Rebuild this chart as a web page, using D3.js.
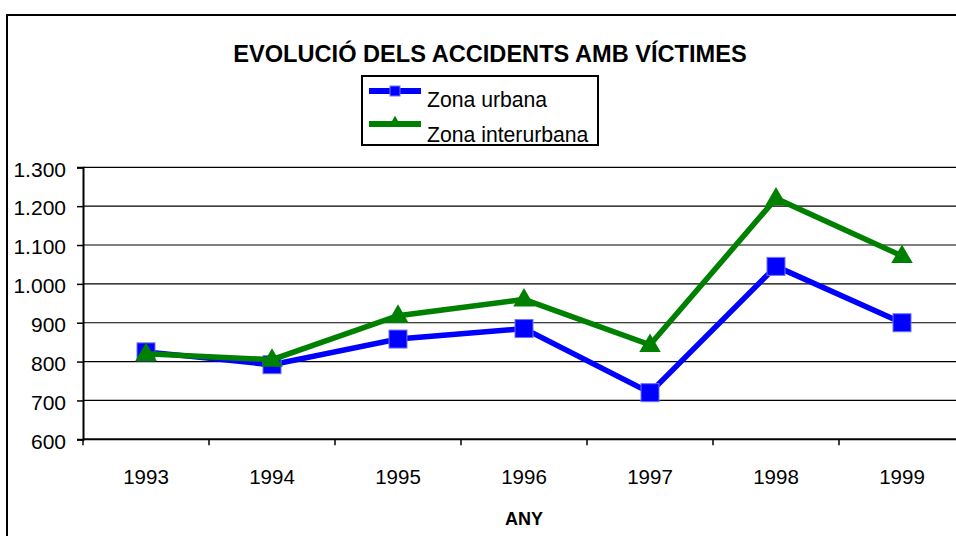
<!DOCTYPE html>
<html>
<head>
<meta charset="utf-8">
<script src="https://cdn.jsdelivr.net/npm/d3@7"></script>
<style>
  html, body { margin: 0; padding: 0; background: #fff; }
  svg { display: block; font-family: "Liberation Sans", Arial, sans-serif; }
</style>
</head>
<body>
<div id="chart"></div>
<script>
  // --- data ---
  var years       = ['1993', '1994', '1995', '1996', '1997', '1998', '1999'];
  var urbana      = [825, 792, 858, 885, 720, 1045, 900];
  var interurbana = [820, 805, 918, 960, 843, 1220, 1072];
  var yTicks      = [600, 700, 800, 900, 1000, 1100, 1200, 1300];
  var seriesNames = ['Zona urbana', 'Zona interurbana'];

  var W = 956, H = 536;
  var BLUE = '#0000ff', GREEN = '#008000';

  var svg = d3.select('#chart').append('svg')
    .attr('width', W).attr('height', H);

  svg.append('rect').attr('width', W).attr('height', H).attr('fill', '#fff');

  // outer chart frame (runs off the right / bottom edge)
  svg.append('rect')
    .attr('x', 7).attr('y', 15)
    .attr('width', W + 20).attr('height', H + 20)
    .attr('fill', 'none').attr('stroke', '#000').attr('stroke-width', 2);

  var x = d3.scaleBand().domain(years).range([83, 965]);
  var y = d3.scaleLinear().domain([600, 1300]).range([439.3, 167.3]);

  var fmt = d3.formatLocale({ decimal: ',', thousands: '.', grouping: [3], currency: ['', ''] }).format(',');

  // gridlines
  svg.append('g').selectAll('line').data(yTicks.slice(1)).enter()
    .append('line')
    .attr('x1', 83).attr('x2', W + 10)
    .attr('y1', function (d) { return y(d); })
    .attr('y2', function (d) { return y(d); })
    .attr('stroke', '#000').attr('stroke-width', 1.2);

  // y axis
  var yAxis = svg.append('g')
    .attr('transform', 'translate(83,0)')
    .call(d3.axisLeft(y).tickValues(yTicks).tickFormat(fmt).tickSize(6).tickPadding(11));
  yAxis.select('.domain').attr('stroke', '#000').attr('stroke-width', 2);
  yAxis.selectAll('.tick line').attr('stroke', '#000').attr('stroke-width', 1.5);
  yAxis.selectAll('text')
    .attr('fill', '#000').attr('font-size', '21px')
    .attr('font-family', '"Liberation Sans", Arial, sans-serif')
    .attr('dy', '0.42em');

  // x axis: ticks on the band boundaries, labels at band centres
  var bounds = years.map(function (d) { return x(d); }).concat([x.range()[1]]);
  svg.append('line')
    .attr('x1', 83).attr('x2', W + 10)
    .attr('y1', y(600)).attr('y2', y(600))
    .attr('stroke', '#000').attr('stroke-width', 2);
  svg.append('g').selectAll('line').data(bounds).enter()
    .append('line')
    .attr('x1', function (d) { return d; }).attr('x2', function (d) { return d; })
    .attr('y1', y(600)).attr('y2', y(600) + 6)
    .attr('stroke', '#000').attr('stroke-width', 1.5);
  svg.append('g').selectAll('text').data(years).enter()
    .append('text')
    .attr('x', function (d) { return x(d) + x.bandwidth() / 2; })
    .attr('y', 484)
    .attr('text-anchor', 'middle')
    .attr('font-size', '20.5px')
    .text(function (d) { return d; });

  svg.append('text')
    .attr('x', 524).attr('y', 525)
    .attr('text-anchor', 'middle')
    .attr('font-size', '18px').attr('font-weight', 'bold')
    .text('ANY');

  // title
  svg.append('text')
    .attr('x', 490).attr('y', 62)
    .attr('text-anchor', 'middle')
    .attr('font-size', '23.6px').attr('font-weight', 'bold')
    .text('EVOLUCIÓ DELS ACCIDENTS AMB VÍCTIMES');

  // series
  function cx(d, i) { return x(years[i]) + x.bandwidth() / 2; }
  var line = d3.line().x(cx).y(function (d) { return y(d); });

  svg.append('path').datum(urbana)
    .attr('d', line).attr('fill', 'none')
    .attr('stroke', BLUE).attr('stroke-width', 5.5).attr('stroke-linejoin', 'miter');
  svg.append('g').selectAll('rect').data(urbana).enter()
    .append('rect')
    .attr('x', function (d, i) { return cx(d, i) - 9; })
    .attr('y', function (d) { return y(d) - 9; })
    .attr('width', 18).attr('height', 18)
    .attr('fill', BLUE).attr('stroke', '#7070ff').attr('stroke-width', 1);

  svg.append('path').datum(interurbana)
    .attr('d', line).attr('fill', 'none')
    .attr('stroke', GREEN).attr('stroke-width', 5.5).attr('stroke-linejoin', 'miter');
  var tri = d3.symbol().type(d3.symbolTriangle).size(200);
  svg.append('g').selectAll('path').data(interurbana).enter()
    .append('path')
    .attr('d', tri)
    .attr('transform', function (d, i) { return 'translate(' + cx(d, i) + ',' + (y(d) + 1) + ')'; })
    .attr('fill', GREEN);

  // legend
  var lg = svg.append('g');
  lg.append('rect')
    .attr('x', 362).attr('y', 76).attr('width', 236).attr('height', 69)
    .attr('fill', '#fff').attr('stroke', '#000').attr('stroke-width', 2);

  var legendRows = [
    { name: seriesNames[0], color: BLUE,  ly: 91,  ty: 107 },
    { name: seriesNames[1], color: GREEN, ly: 124, ty: 142 }
  ];
  legendRows.forEach(function (r, i) {
    lg.append('line')
      .attr('x1', 369).attr('x2', 421).attr('y1', r.ly).attr('y2', r.ly)
      .attr('stroke', r.color).attr('stroke-width', 6);
    if (i === 0) {
      lg.append('rect')
        .attr('x', 390).attr('y', r.ly - 5).attr('width', 10).attr('height', 10)
        .attr('fill', BLUE).attr('stroke', '#7070ff').attr('stroke-width', 1);
    } else {
      lg.append('path')
        .attr('d', d3.symbol().type(d3.symbolTriangle).size(70))
        .attr('transform', 'translate(395,' + (r.ly - 1) + ')')
        .attr('fill', GREEN);
    }
    lg.append('text')
      .attr('x', 427).attr('y', r.ty)
      .attr('font-size', '21.2px')
      .text(r.name);
  });
</script>
</body>
</html>
